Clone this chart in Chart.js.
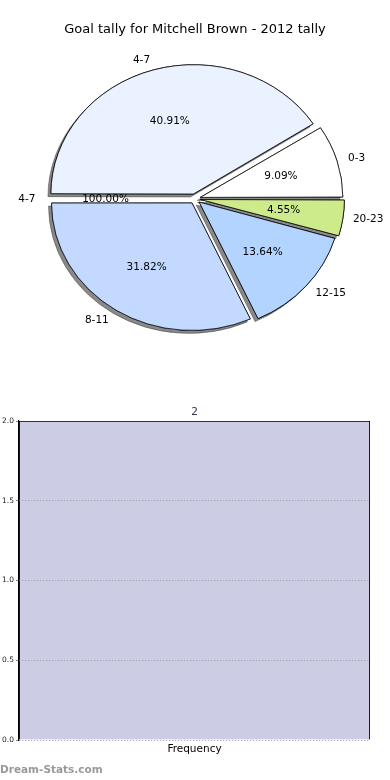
<!DOCTYPE html>
<html>
<head>
<meta charset="utf-8">
<script src="https://cdn.jsdelivr.net/npm/chart.js@4/dist/chart.umd.min.js"></script>
<style>
  body { margin: 0; width: 390px; height: 780px; background: #fff; position: relative; overflow: hidden; }
  #pie { position: absolute; left: 0; top: 0; }
  #bar { position: absolute; left: 0; top: 380px; }
  #mark { position: absolute; left: 0; top: 763px; font: bold 10.5px "DejaVu Sans", sans-serif; color: #999; }
</style>
</head>
<body>
<canvas id="pie" width="390" height="370"></canvas>
<canvas id="bar" width="390" height="400"></canvas>
<div id="mark">Dream-Stats.com</div>
<script>
// pie slices, listed counter-clockwise from 3 o'clock
const pieTitle = 'Goal tally for Mitchell Brown - 2012 tally';
const ranges = ['0-3', '4-7', '4-7', '8-11', '12-15', '20-23'];
const tallies = [2, 9, 0, 7, 3, 1];
const pctLabels = ['9.09%', '40.91%', '100.00%', '31.82%', '13.64%', '4.55%'];
const sliceColours = ['#FFFFFF', '#EAF1FF', '#EAF1FF', '#C3D9FF', '#B3D4FF', '#CDEB8B'];

// frequency panel
const freqCats = ['Frequency'];
const freqValues = [2];
const yTicks = [0, 0.5, 1, 1.5, 2];

// chart.js goes clockwise, so flip the order
const rev = a => a.slice().reverse();

const squashY = 127 / 140;   // pie is drawn as an ellipse
const explode = 22;          // arc offset (chart.js moves by offset/4)

const pieLook = {
    id: 'pieLook',
    beforeDatasetsDraw(chart) {
        const meta = chart.getDatasetMeta(0);
        const a = meta.data[0];
        const ctx = chart.ctx;
        ctx.save();
        ctx.translate(a.x, a.y);
        ctx.scale(1, squashY);
        ctx.translate(-a.x, -a.y);
        // shadow pass first, the normal draw covers it afterwards
        ctx.save();
        ctx.shadowColor = 'rgba(40,40,40,0.55)';
        ctx.shadowOffsetX = -3;
        ctx.shadowOffsetY = 3;
        meta.data.forEach(el => el.draw(ctx));
        ctx.restore();
    },
    afterDatasetsDraw(chart) {
        const ctx = chart.ctx;
        ctx.restore();
        const meta = chart.getDatasetMeta(0);
        const names = chart.data.labels;
        const pcts = rev(pctLabels);
        ctx.save();
        ctx.font = '10.5px "DejaVu Sans"';
        ctx.fillStyle = '#000';
        ctx.textBaseline = 'middle';
        meta.data.forEach((a, i) => {
            const mid = (a.startAngle + a.endAngle) / 2;
            const c = Math.cos(mid), s = Math.sin(mid);
            const push = explode / 4;
            const cx = a.x + c * push, cy = a.y + s * push * squashY;
            const r = a.outerRadius;
            ctx.textAlign = c > 0 ? 'left' : 'right';
            ctx.fillText(names[i], cx + c * r * 1.1, cy + s * r * 1.1 * squashY);
            ctx.textAlign = 'center';
            ctx.fillText(pcts[i], cx + c * r * 0.6, cy + s * r * 0.6 * squashY);
        });
        ctx.restore();
    }
};

new Chart(document.getElementById('pie'), {
    type: 'pie',
    data: {
        labels: rev(ranges),
        datasets: [{
            data: rev(tallies),
            backgroundColor: rev(sliceColours),
            borderColor: '#000',
            borderWidth: 0.8,
            borderJoinStyle: 'miter',
            offset: explode,
            clip: false
        }]
    },
    options: {
        responsive: false,
        animation: false,
        events: [],
        rotation: 90,
        radius: 140,
        layout: { padding: { bottom: 10 } },
        plugins: {
            legend: { display: false },
            tooltip: { enabled: false },
            title: {
                display: true,
                text: pieTitle,
                color: '#000',
                font: { family: 'DejaVu Sans', size: 13, weight: 'normal' },
                padding: { top: 22, bottom: 0 }
            }
        }
    },
    plugins: [pieLook]
});

const valueLabel = {
    id: 'valueLabel',
    afterDatasetsDraw(chart) {
        const ctx = chart.ctx;
        ctx.save();
        ctx.font = '10.5px "DejaVu Sans"';
        ctx.fillStyle = '#333355';
        ctx.textAlign = 'center';
        ctx.textBaseline = 'bottom';
        chart.getDatasetMeta(0).data.forEach((b, i) => {
            ctx.fillText(String(freqValues[i]), b.x, b.y - 3);
        });
        ctx.restore();
    }
};

new Chart(document.getElementById('bar'), {
    type: 'bar',
    data: {
        labels: freqCats,
        datasets: [{
            data: freqValues,
            backgroundColor: '#CCCCE5',
            borderColor: '#000',
            borderWidth: 1.2,
            categoryPercentage: 1,
            barPercentage: 1
        }]
    },
    options: {
        responsive: false,
        animation: false,
        events: [],
        layout: { padding: { top: 41, right: 20, bottom: 20, left: 0 } },
        plugins: { legend: { display: false }, tooltip: { enabled: false } },
        scales: {
            x: {
                grid: { display: false },
                border: { display: false },
                ticks: { display: false },
                title: {
                    display: true,
                    text: 'Frequency',
                    color: '#000',
                    font: { family: 'DejaVu Sans', size: 10.5 },
                    padding: { top: 0, bottom: 4 }
                },
                afterFit(s) { s.height = 20; }
            },
            y: {
                min: 0,
                max: 2,
                afterBuildTicks(s) { s.ticks = yTicks.map(v => ({ value: v })); },
                ticks: {
                    font: { family: 'DejaVu Sans', size: 7.5 },
                    color: '#222',
                    padding: 2,
                    callback: v => v.toFixed(1)
                },
                grid: {
                    z: 1,
                    color: ctx => (ctx.tick && ctx.tick.value === 2) ? 'rgba(0,0,0,0)' : '#9a9aaa',
                    tickColor: '#888',
                    tickLength: 3,
                    lineWidth: 1
                },
                border: { display: true, z: 1, color: '#000', width: 1.2, dash: [1, 2] },
                afterFit(s) { s.width = 19; }
            }
        }
    },
    plugins: [valueLabel]
});
</script>
</body>
</html>
